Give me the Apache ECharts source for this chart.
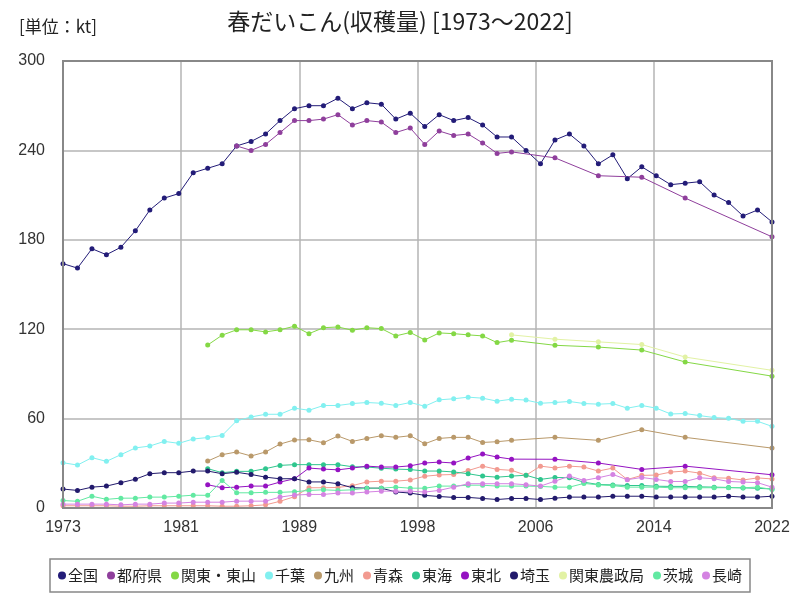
<!DOCTYPE html>
<html><head><meta charset="utf-8">
<script src="https://cdn.jsdelivr.net/npm/echarts@6/dist/echarts.min.js"></script>
<style>html,body{margin:0;padding:0;background:#fff}#c{width:800px;height:600px}</style>
</head><body><div id="c"></div>
<script>
const years = [];
for (let y = 1973; y <= 2022; y++) years.push(y);
const xTickLabels = [1973, 1981, 1989, 1998, 2006, 2014, 2022];
const yTicks = [0, 60, 120, 180, 240, 300];
const N = null;
const zenkoku = [164,161,174,170,175,186,200,208,211,225, 228,231,243,246,251,260,268,270,270,275, 268,272,271,261,265,256,264,260,262,257, 249,249,240,231,247,251,243,231,237,221, 229,223,217,218,219,210,205,196,200,192];
const tofuken = [N,N,N,N,N,N,N,N,N,N, N,N,243,240,244,252,260,260,261,264, 257,260,259,252,255,244,253,250,251,245, 238,239,N,N,235,N,N,223,N,N, 222,N,N,208,N,N,N,N,N,182];
const kantoTosan = [N,N,N,N,N,N,N,N,N,N, 109.4,116,119.6,119.6,118.2,119.6,122,117,121,121.5, 119.3,121,120.4,115.5,117.8,112.8,117.5,117,116.2,115.5, 111,112.6,N,N,109.2,N,N,108,N,N, 106,N,N,98,N,N,N,N,N,88.5];
const chiba = [30.4,28.8,33.8,31.3,35.8,40.3,41.6,44.7,43.4,46.3, 47.3,48.7,58.5,61.1,62.9,62.9,67,65.6,68.8,68.8, 70.1,70.8,70.3,68.8,70.8,68.3,72.6,73.3,74.4,73.7, 71.7,73,72.4,70.3,70.8,71.5,70.1,69.7,70.1,67, 68.8,67,63.1,63.4,62,60.7,60.2,58.2,58.2,54.8];
const kyushu = [N,N,N,N,N,N,N,N,N,N, 31.5,35.8,37.6,34.9,37.6,42.9,45.7,45.8,43.8,48.3, 44.7,46.7,48.5,47.4,48.5,43.1,46.7,47.4,47.4,44, 44.5,45.4,N,N,47.4,N,N,45.4,N,N, 52.6,N,N,47.4,N,N,N,N,N,40.2];
const aomori = [1.5,1.5,1.5,1.5,1.2,1.2,1.5,1.5,1.5,1.5, 1.5,1.2,1.2,1.5,2.1,4.5,7.6,13.6,13.6,13.8, 15,17.5,18,18,18.8,21.3,22.2,22.5,25.1,28.1, 25.9,25.3,22,28.1,26.9,28.1,27.5,24.8,26.8,19.1, 21.9,22.1,24.1,24.8,23.4,20.3,20,18.8,20.2,19.5];
const tokai = [N,N,N,N,N,N,N,N,N,N, 26.4,23.7,24.6,24.6,26.4,28.6,29.1,29.1,29.1,29.1, 27.7,27.5,26.7,26.1,25.8,24.8,24.8,24.2,23,21.4, 20.7,21.4,22,19.2,20.5,20.3,17.3,15.8,15.5,15.1, 15.1,14.6,14.5,14.5,14.2,14,13.8,13.5,13.2,12.8];
const tohoku = [N,N,N,N,N,N,N,N,N,N, 15.6,13.6,14,14.7,14.7,17.4,19.6,26.8,26.1,25.6, 26.8,28.1,27.5,27.5,28.3,30.2,30.8,30.2,33.5,36.2, 34.2,32.8,N,N,32.7,N,N,30.2,N,N, 25.9,N,N,28.1,N,N,N,N,N,22.3];
const saitama = [12.7,11.8,14,14.7,17,19.3,23,23.7,23.7,24.8, 24.8,23,24,22.5,20.7,19.6,19.7,17.5,17.5,16.3, 13.6,13.3,13.3,10.8,10,8.5,7.7,7.1,7.1,6.4, 5.7,6.4,6.4,5.7,6.6,7.3,7.3,7.3,7.9,7.9, 7.9,7.3,7.3,7.3,7.3,7.3,7.9,7.3,7.3,7.9];
const kantoNoseikyoku = [N,N,N,N,N,N,N,N,N,N, N,N,N,N,N,N,N,N,N,N, N,N,N,N,N,N,N,N,N,N, N,116.2,N,N,113.3,N,N,111.5,N,N, 109.7,N,N,101.3,N,N,N,N,N,92.4];
const ibaraki = [5,4.5,7.9,5.8,6.6,6.6,7.3,7.3,7.9,8.6, 8.5,18.5,10.2,10.2,10.5,10.5,10.9,11.8,12.2,11.8, 12.2,13.3,13.3,14,13.3,13.3,14.7,14.7,15.3,15.3, 14.7,14.7,14.7,14.5,14,14,16.5,15.5,15,14, 14,14,13.6,13.6,13.6,13.6,13.6,13.6,14,12.5];
const nagasaki = [2.6,2.6,2.6,2.6,2.1,2.6,2.6,3.3,3.3,3.9, 3.9,3.9,4.6,4.6,4.6,7.3,8.7,9.1,9.1,10, 10,10.7,11.3,11.3,11.3,10.7,11.8,14,16.3,16.3, 16.3,16.3,15.6,14.7,18,21.4,18.5,20.3,22.5,19, 20.5,19.2,17.8,17.8,20.3,19.6,17.8,17.4,17,14];

const seriesDefs = [
  ['全国', zenkoku, '#231c78'],
  ['都府県', tofuken, '#8f3f9c'],
  ['関東・東山', kantoTosan, '#84d845'],
  ['千葉', chiba, '#82f0f0'],
  ['九州', kyushu, '#b9996a'],
  ['青森', aomori, '#f29a90'],
  ['東海', tokai, '#2fc68e'],
  ['東北', tohoku, '#9513c2'],
  ['埼玉', saitama, '#221a6c'],
  ['関東農政局', kantoNoseikyoku, '#e2f2a4'],
  ['茨城', ibaraki, '#62e9a2'],
  ['長崎', nagasaki, '#d483e2']
];
const x0 = years[0];
const span = years[years.length - 1] - x0;
const chart = echarts.init(document.getElementById('c'));
chart.setOption({
  animation: false,
  backgroundColor: '#fff',
  title: [
    {text: '春だいこん(収穫量) [1973～2022]', left: 'center', top: 5,
     textStyle: {fontFamily: 'Noto Sans CJK JP', fontSize: 23, fontWeight: 'normal', color: '#222'}},
    {text: '[単位：kt]', left: 14, top: 13,
     textStyle: {fontFamily: 'Noto Sans CJK JP', fontSize: 17, fontWeight: 'normal', color: '#222'}}
  ],
  grid: {left: 63, right: 28, top: 61, bottom: 92, containLabel: false},
  xAxis: {
    type: 'value', min: 0, max: span, interval: span / 6,
    axisLine: {show: true, onZero: false, lineStyle: {color: '#888', width: 2}},
    axisTick: {show: false},
    axisLabel: {formatter: v => String(Math.round(v + x0)), fontSize: 16, color: '#333', margin: 12,
      fontFamily: 'Liberation Sans'},
    splitLine: {show: true, lineStyle: {color: '#b4b4b4', width: 1.5}}
  },
  yAxis: {
    type: 'value', min: yTicks[0], max: yTicks[yTicks.length - 1], interval: 60,
    axisLine: {show: true, lineStyle: {color: '#888', width: 2}},
    axisTick: {show: false},
    axisLabel: {fontSize: 16, color: '#333', margin: 18, fontFamily: 'Liberation Sans'},
    splitLine: {show: true, lineStyle: {color: '#b4b4b4', width: 1.5}}
  },
  legend: {
    bottom: 8, left: 'center', icon: 'circle', itemWidth: 8, itemHeight: 8, itemGap: 9,
    borderColor: '#888', borderWidth: 1.5, padding: [9, 8],
    textStyle: {fontFamily: 'Noto Sans CJK JP', fontSize: 15, color: '#222', padding: [0, 0, 0, -3]},
    data: seriesDefs.map(d => d[0])
  },
  graphic: [{type: 'rect', shape: {x: 63, y: 61, width: 709, height: 447},
    style: {fill: 'none', stroke: '#888', lineWidth: 2}, silent: true, z: 10}],
  series: seriesDefs.map(([name, vals, color]) => ({
    name, type: 'line', connectNulls: true, symbol: 'circle', symbolSize: 5,
    itemStyle: {color}, lineStyle: {color, width: 1},
    data: years.map((y, i) => [y - x0, vals[i]])
  }))
});
</script></body></html>
